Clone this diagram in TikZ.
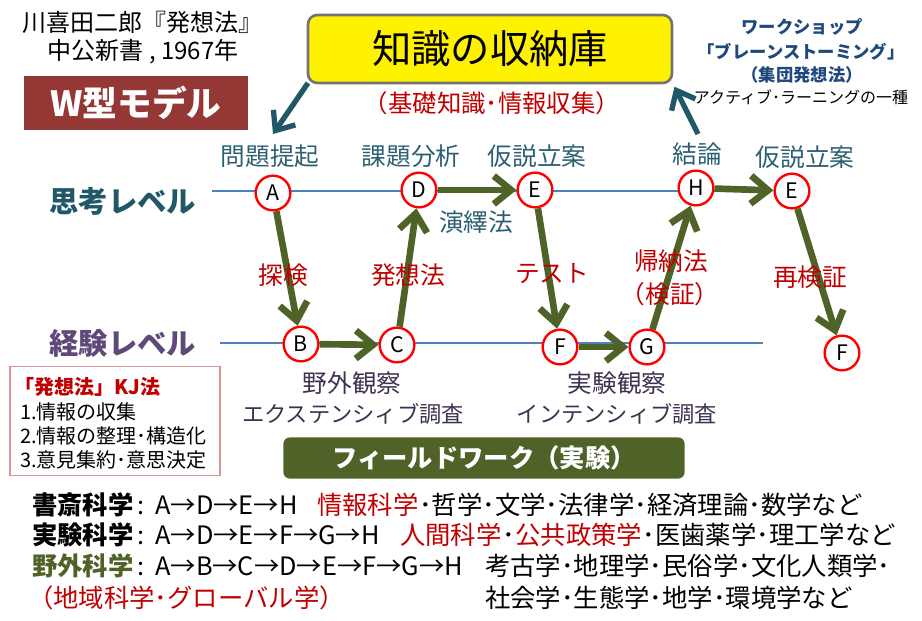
\documentclass[tikz,border=0pt]{standalone}
\usepackage{fontspec}
\setmainfont{Noto Sans CJK JP}
\usetikzlibrary{arrows.meta}
\definecolor{tealA}{RGB}{33,88,104}
\definecolor{labteal}{RGB}{45,95,115}
\definecolor{kred}{RGB}{192,0,0}
\definecolor{olive}{RGB}{79,98,40}
\definecolor{purp}{RGB}{95,73,122}
\definecolor{dpurp}{RGB}{64,49,82}
\definecolor{wred}{RGB}{149,55,53}
\definecolor{navy}{RGB}{31,73,125}
\definecolor{kjb}{RGB}{217,150,148}
\definecolor{axisc}{RGB}{79,129,189}
\begin{document}
\begin{tikzpicture}[x=0.75pt,y=-0.75pt,
  txt/.style={inner sep=0pt},
  toplab/.style={txt, text=labteal, font=\fontsize{18.5}{20}\selectfont},
  redlab/.style={txt, text=kred, font=\fontsize{18.5}{20}\selectfont},
  explab/.style={txt, text=dpurp, font=\fontsize{18.5}{20}\selectfont},
  circ/.style={circle, draw=red, line width=1.8pt, fill=white, minimum size=26pt, inner sep=0pt, font=\fontsize{16}{16}\selectfont},
  garrow/.style={draw=olive, line width=5pt, -{Straight Barb[length=13pt,width=21pt]}},
  tarrow/.style={draw=tealA, line width=4pt, -{Straight Barb[length=12pt,width=20pt]}},
  axisline/.style={draw=axisc, line width=0.8pt},
  blue/.style={txt, text=navy, font=\bfseries\fontsize{13}{14}\selectfont},
  row/.style={anchor=base west, inner sep=0pt, font=\fontsize{19}{21}\selectfont},
  rowb/.style={row, font=\bfseries\fontsize{19}{21}\selectfont},
  kj/.style={anchor=west, inner sep=0pt, font=\fontsize{15}{16}\selectfont}
]
\useasboundingbox (0,0) rectangle (922,621);

% title
\node[txt, font=\fontsize{18}{20}\selectfont] (t1) at (142,22) {川喜田二郎『発想法』};
\node[txt, font=\fontsize{18}{20}\selectfont] (t2) at (143,52) {中公新書 , 1967年};
\node[fill=wred, minimum width=168pt, minimum height=40pt, inner sep=0pt, text=white, font=\bfseries\fontsize{26}{28}\selectfont] (wm) at (136,103) {W型モデル};

% knowledge box
\node[draw=black!55, line width=2pt, fill=yellow, rounded corners=7pt, minimum width=273pt, minimum height=51pt, inner sep=0pt, font=\fontsize{29.5}{31}\selectfont] (kb) at (490,49) {知識の収納庫};
\node[txt, text=kred, font=\fontsize{18.3}{20}\selectfont] (kbs) at (492,103) {（基礎知識･情報収集）};

% top right
\node[blue] (w1) at (802,27) {ワークショップ};
\node[blue] (w2) at (801,52) {「ブレーンストーミング」};
\node[blue] (w3) at (802,75) {（集団発想法）};
\node[txt, font=\fontsize{12}{13}\selectfont] (w4) at (801,97) {アクティブ･ラーニングの一種};

% teal arrows
\coordinate (lt) at (273,134);
\coordinate (rt) at (698,134);
\draw[tarrow] ([xshift=1pt,yshift=1pt]kb.south west) -- (lt);
\draw[tarrow, shorten >=2pt] (rt) -- (kb.south east);

% level labels
\node[txt, text=tealA, font=\bfseries\fontsize{22}{24}\selectfont] (lv1) at (123,201) {思考レベル};
\node[txt, text=purp, font=\bfseries\fontsize{22}{24}\selectfont] (lv2) at (123,343) {経験レベル};

% axis lines
\coordinate (ta) at (212,191);
\coordinate (tb) at (765,191);
\coordinate (ea) at (220,343);
\coordinate (eb) at (763,343);
\draw[axisline] (ta) -- (tb);
\draw[axisline] (ea) -- (eb);

% nodes
\node[circ] (A) at (273,193) {A};
\node[circ] (D) at (419,190) {D};
\node[circ] (E) at (535,190) {E};
\node[circ] (H) at (696,188) {H};
\node[circ] (E2) at (792,191) {E};
\node[circ] (B) at (301,344) {B};
\node[circ] (C) at (397,345) {C};
\node[circ] (F) at (560,347) {F};
\node[circ] (G) at (647,347) {G};
\node[circ] (F2) at (842,353) {F};

% olive arrows
\draw[garrow] (A) -- (B);
\draw[garrow] (B) -- (C);
\draw[garrow] (C) -- (D);
\draw[garrow] (D) -- (E);
\draw[garrow] (E) -- (F);
\draw[garrow] (F) -- (G);
\draw[garrow] (G) -- (H);
\draw[garrow] (H) -- (E2);
\draw[garrow] (E2) -- (F2);

% top labels
\node[toplab] (l1) at (270,156) {問題提起};
\node[toplab] (l2) at (411,156) {課題分析};
\node[toplab] (l3) at (537,156) {仮説立案};
\node[toplab] (l4) at (697,154) {結論};
\node[toplab] (l5) at (805,157) {仮説立案};
\node[toplab] (l6) at (476,222) {演繹法};

% red labels
\node[redlab] (m1) at (283,275) {探検};
\node[redlab] (m2) at (408,275) {発想法};
\node[redlab] (m3) at (552,274) {テスト};
\node[redlab] (m4) at (671,261) {帰納法};
\node[redlab] (m5) at (670,294) {（検証）};
\node[redlab] (m6) at (810,277) {再検証};

% experience labels
\node[explab] (x1) at (352,383) {野外観察};
\node[explab, font=\fontsize{16.7}{18}\selectfont] (x2) at (353,414) {エクステンシィブ調査};
\node[explab] (x3) at (617,383) {実験観察};
\node[explab, font=\fontsize{16.7}{18}\selectfont] (x4) at (617,414) {インテンシィブ調査};

% field work bar
\node[fill=olive, rounded corners=5pt, minimum width=301pt, minimum height=31pt, inner sep=0pt, text=white, font=\bfseries\fontsize{19}{20}\selectfont] (fw) at (484,458) {フィールドワーク（実験）};

% KJ box
\node[draw=kjb, line width=0.9pt, fill=white, minimum width=157.5pt, minimum height=82pt, inner sep=0pt] (kjbox) at (115,421) {};
\node[kj, text=kred, font=\bfseries\fontsize{15}{16}\selectfont] (k0) at (14,387) {「発想法」KJ法};
\node[kj] (k1) at (20,412) {1.情報の収集};
\node[kj] (k2) at (20,436) {2.情報の整理･構造化};
\node[kj] (k3) at (20,460) {3.意見集約･意思決定};

% bottom rows
\node[rowb] (r1a) at (32,514.5) {書斎科学};
\node[row] (r1b) at (137,514.5) {:};
\node[row] (r1c) at (155,514.5) {A→D→E→H};
\node[row, text=kred] (r1d) at (317,514.5) {情報科学};
\node[row] (r1e) at (r1d.base east) {･哲学･文学･法律学･経済理論･数学など};

\node[rowb] (r2a) at (32,544.5) {実験科学};
\node[row] (r2b) at (137,544.5) {:};
\node[row] (r2c) at (155,544.5) {A→D→E→F→G→H};
\node[row, text=kred] (r2d) at (400,544.5) {人間科学};
\node[row] (r2e) at (r2d.base east) {･};
\node[row, text=kred] (r2f) at (r2e.base east) {公共政策学};
\node[row] (r2g) at (r2f.base east) {･医歯薬学･理工学など};

\node[rowb, text=olive] (r3a) at (32,575.5) {野外科学};
\node[row] (r3b) at (137,575.5) {:};
\node[row] (r3c) at (155,575.5) {A→B→C→D→E→F→G→H};
\node[row] (r3d) at (485,575.5) {考古学･地理学･民俗学･文化人類学･};

\node[row, text=kred] (r4a) at (28,607.5) {（地域科学･グローバル学）};
\node[row] (r4b) at (485,607.5) {社会学･生態学･地学･環境学など};
\end{tikzpicture}
\end{document}
